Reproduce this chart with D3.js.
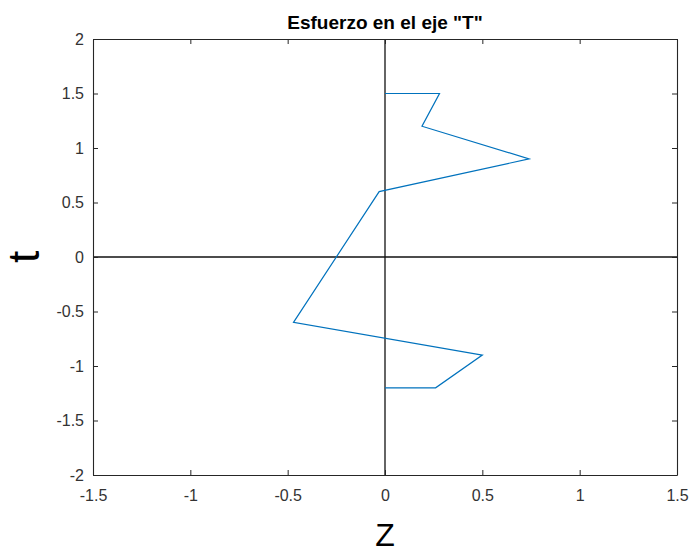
<!DOCTYPE html>
<html><head><meta charset="utf-8">
<script src="https://cdn.jsdelivr.net/npm/d3@7"></script>
<style>body{margin:0;background:#fff}svg{display:block}text{font-family:"Liberation Sans",Arial,Helvetica,sans-serif}</style>
</head><body>
<script>
const zValues = [0, 0.28, 0.19, 0.74, -0.03, -0.47, 0.50, 0.26, 0];
const tValues = [1.5, 1.5, 1.2, 0.9, 0.6, -0.6, -0.9, -1.2, -1.2];
const xTicks = [-1.5, -1, -0.5, 0, 0.5, 1, 1.5];
const yTicks = [-2, -1.5, -1, -0.5, 0, 0.5, 1, 1.5, 2];
const titleText = 'Esfuerzo en el eje "T"';
const xLabel = "Z", yLabel = "t";

const W = 694, H = 554;
const m = {l: 93, r: 17, t: 39, b: 79};
const svg = d3.select("body").append("svg").attr("width", W).attr("height", H);
const x = d3.scaleLinear().domain([-1.5, 1.5]).range([m.l, W - m.r]);
const y = d3.scaleLinear().domain([-2, 2]).range([H - m.b, m.t]);
const axisColor = "#262626";
const tl = 5;
const fmt = d => String(d);

// zero lines
svg.append("line").attr("x1", x(0)).attr("x2", x(0)).attr("y1", y(-2)).attr("y2", y(2))
  .attr("stroke", "#111").attr("stroke-width", 1.3);
svg.append("line").attr("x1", x(-1.5)).attr("x2", x(1.5)).attr("y1", y(0)).attr("y2", y(0))
  .attr("stroke", "#111").attr("stroke-width", 1.3);

// data line
const data = zValues.map((z, i) => [z, tValues[i]]);
svg.append("path").datum(data)
  .attr("d", d3.line().x(d => x(d[0])).y(d => y(d[1])))
  .attr("fill", "none").attr("stroke", "#0072BD").attr("stroke-width", 1.2);

// axes
function styleAxis(g) {
  g.select(".domain").attr("stroke", axisColor).attr("stroke-width", 1.1);
  g.selectAll(".tick line").attr("stroke", axisColor);
  g.selectAll(".tick text").attr("fill", "#333").attr("font-size", 16);
}
svg.append("g").attr("transform", `translate(0,${y(-2)})`)
  .call(d3.axisBottom(x).tickValues(xTicks).tickFormat(fmt).tickSizeInner(-tl).tickSizeOuter(0).tickPadding(15))
  .call(styleAxis);
svg.append("g").attr("transform", `translate(0,${y(2)})`)
  .call(d3.axisTop(x).tickValues(xTicks).tickFormat("").tickSizeInner(-tl).tickSizeOuter(0))
  .call(styleAxis);
svg.append("g").attr("transform", `translate(${x(-1.5)},0)`)
  .call(d3.axisLeft(y).tickValues(yTicks).tickFormat(fmt).tickSizeInner(-tl).tickSizeOuter(0).tickPadding(9))
  .call(styleAxis);
svg.append("g").attr("transform", `translate(${x(1.5)},0)`)
  .call(d3.axisRight(y).tickValues(yTicks).tickFormat("").tickSizeInner(-tl).tickSizeOuter(0))
  .call(styleAxis);

// title & labels
svg.append("text").attr("x", x(0)).attr("y", 29).attr("text-anchor", "middle")
  .attr("font-size", 19).attr("font-weight", "bold").attr("fill", "#000").text(titleText);
svg.append("text").attr("x", x(0)).attr("y", 546).attr("text-anchor", "middle")
  .attr("font-size", 32).attr("fill", "#000").text(xLabel);
svg.append("text").attr("transform", `translate(39,${y(0)}) rotate(-90)`).attr("text-anchor", "middle")
  .attr("font-size", 44).attr("fill", "#000").text(yLabel);
</script>
</body></html>
